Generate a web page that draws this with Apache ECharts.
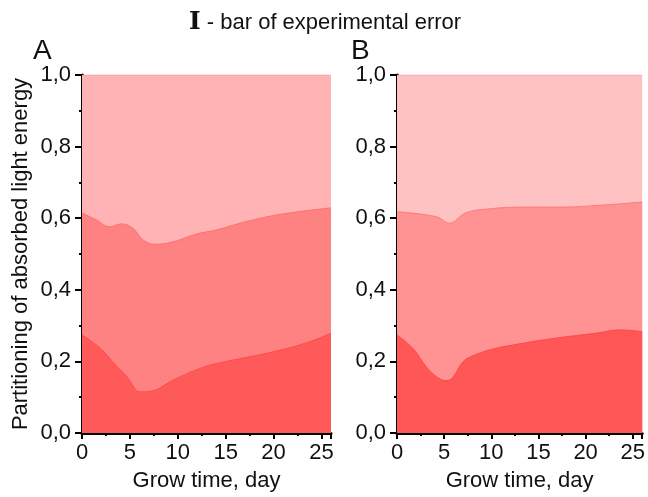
<!DOCTYPE html>
<html>
<head>
<meta charset="utf-8">
<script src="https://cdn.jsdelivr.net/npm/echarts@6/dist/echarts.min.js"></script>
<style>
  html, body { margin: 0; padding: 0; background: #fff; }
  #chart { width: 648px; height: 497px; }
</style>
</head>
<body>
<div id="chart"></div>
<script>
// boundaries of the stacked layers
var topDays = [0, 26];
var topVals = [1.0, 1.0];

// panel A
var aMidDays = [0, 1.5, 2.9, 4.1, 5.3, 6.4, 7.6, 9.5, 12, 14, 17.5, 21, 26];
var aMidVals = [0.615, 0.595, 0.576, 0.584, 0.572, 0.539, 0.527, 0.534, 0.556, 0.567, 0.593, 0.612, 0.629];
var aLowDays = [0, 1.9, 3.6, 4.7, 6.05, 6.7, 9.9, 12.7, 15.1, 20, 23.8, 26];
var aLowVals = [0.274, 0.237, 0.187, 0.157, 0.115, 0.115, 0.153, 0.184, 0.2, 0.227, 0.255, 0.279];

// panel B
var bMidDays = [0, 4.2, 5.55, 7.3, 9.75, 13.2, 17.4, 20.9, 26];
var bMidVals = [0.618, 0.604, 0.586, 0.615, 0.626, 0.631, 0.631, 0.635, 0.645];
var bLowDays = [0, 1.7, 3.1, 4.2, 5.2, 5.9, 7, 8, 10.1, 13.2, 17.4, 20.9, 23.7, 26];
var bLowVals = [0.274, 0.236, 0.185, 0.157, 0.146, 0.155, 0.199, 0.215, 0.234, 0.25, 0.267, 0.278, 0.288, 0.283];

var colorsA = ['#ffb3b5', '#ff8282', '#ff5a5a'];
var colorsB = ['#ffc2c2', '#ff9292', '#ff5656'];

function pairs(days, vals) {
    return days.map(function (d, i) { return [d, vals[i]]; });
}

var font = 'Liberation Sans, Arial, sans-serif';

function xAxis(idx) {
    return {
        gridIndex: idx, type: 'value', min: 0, max: 26, interval: 5,
        name: 'Grow time, day', nameLocation: 'middle', nameGap: 37,
        nameTextStyle: { fontSize: 22, color: '#111', fontFamily: font },
        axisLine: { lineStyle: { color: '#000', width: 3 } },
        axisTick: { length: 6, lineStyle: { color: '#000', width: 2 } },
        minorTick: { show: true, splitNumber: 2, length: 3, lineStyle: { color: '#000', width: 2 } },
        axisLabel: { fontSize: 22, color: '#111', fontFamily: font, margin: 9, showMaxLabel: false },
        splitLine: { show: false }
    };
}

function yAxis(idx, withName) {
    return {
        gridIndex: idx, type: 'value', min: 0, max: 1, interval: 0.2,
        name: withName ? 'Partitioning of absorbed light energy' : '',
        nameLocation: 'middle', nameGap: 50,
        nameTextStyle: { fontSize: 22, color: '#111', fontFamily: font },
        axisLine: { show: true, lineStyle: { color: '#000', width: 3 } },
        axisTick: { show: true, length: 7, lineStyle: { color: '#000', width: 2 } },
        minorTick: { show: true, splitNumber: 2, length: 3, lineStyle: { color: '#000', width: 2 } },
        axisLabel: {
            fontSize: 22, color: '#111', fontFamily: font, margin: 11,
            formatter: function (v) { return v.toFixed(1).replace('.', ','); }
        },
        splitLine: { show: false }
    };
}

function layer(idx, data, color, line) {
    return {
        type: 'line', xAxisIndex: idx, yAxisIndex: idx, data: data,
        smooth: 0.4, symbol: 'none', silent: true,
        lineStyle: { color: line, width: 1 },
        areaStyle: { color: color, opacity: 1 }
    };
}

var chart = echarts.init(document.getElementById('chart'));
var option = {
    backgroundColor: '#fff',
    animation: false,
    title: [
        {
            text: '{b|I} - bar of experimental error', left: 184, top: 5,
            textStyle: {
                fontSize: 22, fontWeight: 'normal', color: '#111', fontFamily: font,
                rich: { b: { fontSize: 25, fontWeight: 'bold', fontFamily: 'DejaVu Serif', color: '#111' } }
            }
        },
        { text: 'A', left: 28, top: 32, textStyle: { fontSize: 28, fontWeight: 'normal', color: '#111', fontFamily: font } },
        { text: 'B', left: 346, top: 32, textStyle: { fontSize: 28, fontWeight: 'normal', color: '#111', fontFamily: font } }
    ],
    grid: [
        { left: 82, right: 317, top: 75, bottom: 64 },
        { left: 397, right: 3, top: 75, bottom: 64 }
    ],
    xAxis: [xAxis(0), xAxis(1)],
    yAxis: [yAxis(0, true), yAxis(1, false)],
    series: [
        layer(0, pairs(topDays, topVals), colorsA[0], '#ff9a9c'),
        layer(0, pairs(aMidDays, aMidVals), colorsA[1], '#ff7070'),
        layer(0, pairs(aLowDays, aLowVals), colorsA[2], '#ff4a4a'),
        layer(1, pairs(topDays, topVals), colorsB[0], '#ffa0a0'),
        layer(1, pairs(bMidDays, bMidVals), colorsB[1], '#ff7a7a'),
        layer(1, pairs(bLowDays, bLowVals), colorsB[2], '#ff4848')
    ]
};
chart.setOption(option);
</script>
</body>
</html>
